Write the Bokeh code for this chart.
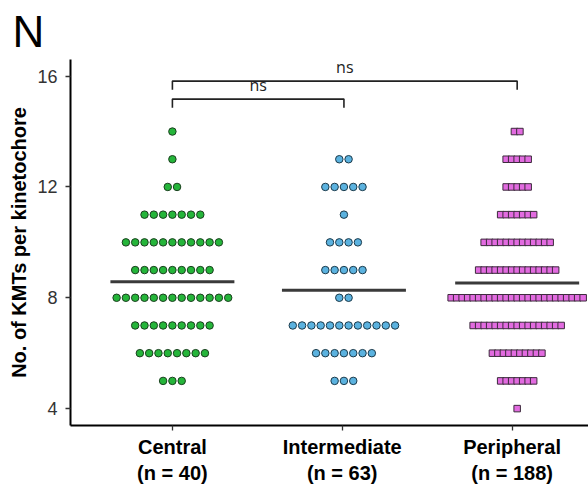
from bokeh.plotting import figure
from bokeh.models import FixedTicker, Range1d, Label
from bokeh.embed import file_html
from bokeh.resources import INLINE

# KMT counts per kinetochore: value -> number of kinetochores with that value
groups = ["Central", "Intermediate", "Peripheral"]
group_labels = ["Central\n(n = 40)", "Intermediate\n(n = 63)", "Peripheral\n(n = 188)"]

central_values = [5, 6, 7, 8, 9, 10, 11, 12, 13, 14]
central_counts = [3, 8, 9, 13, 9, 11, 7, 2, 1, 1]

intermediate_values = [5, 6, 7, 8, 9, 10, 11, 12, 13]
intermediate_counts = [3, 7, 12, 2, 5, 4, 1, 5, 2]

peripheral_values = [4, 5, 6, 7, 8, 9, 10, 11, 12, 13, 14]
peripheral_counts = [1, 7, 10, 17, 25, 15, 13, 7, 5, 5, 2]

comparisons = [("Central", "Intermediate", "ns"), ("Central", "Peripheral", "ns")]

y_ticks = [4, 8, 12, 16]

FONT = "Liberation Sans"

p = figure(width=588, height=492, output_backend="svg", toolbar_location=None,
           min_border_left=70, min_border_right=0, min_border_top=58,
           min_border_bottom=67)
p.x_range = Range1d(0.4, 3.45)
p.y_range = Range1d(3.39, 16.6)
p.grid.visible = False
p.outline_line_color = None
p.background_fill_color = "white"
p.border_fill_color = "white"

# panel letter as a left-aligned title
p.title.text = "N"
p.title.text_font = FONT
p.title.text_font_size = "44px"
p.title.text_font_style = "normal"
p.title.text_color = "black"
p.title.align = "left"
p.title.offset = -58
p.title.standoff = 8

centers = {"Central": 1.0, "Intermediate": 2.01, "Peripheral": 3.03}
px = 518 / (3.45 - 0.4)  # screen pixels per x unit


def swarm(center, values, counts, step):
    xs, ys = [], []
    for v, c in zip(values, counts):
        for i in range(c):
            xs.append(center + (i - (c - 1) / 2) * step)
            ys.append(v)
    return xs, ys


def mean(values, counts):
    return sum(v * c for v, c in zip(values, counts)) / sum(counts)


series = [
    ("Central", central_values, central_counts, "circle", "#25b53a", "#1b3f1f", 9.3 / px, 7.5),
    ("Intermediate", intermediate_values, intermediate_counts, "circle", "#5bb2df", "#1c3a4a", 9.3 / px, 7.5),
    ("Peripheral", peripheral_values, peripheral_counts, "square", "#e26be0", "#3c2a3c", 5.5 / px, 6.5),
]

for name, vals, cnts, marker, fill, edge, step, size in series:
    xs, ys = swarm(centers[name], vals, cnts, step)
    p.scatter(xs, ys, marker=marker, size=size, fill_color=fill,
              line_color=edge, line_width=1)
    m = mean(vals, cnts)
    c = centers[name]
    p.line([c - 0.365, c + 0.365], [m, m], line_color="#3a3a3a", line_width=3)

# significance brackets
bracket_levels = [15.17, 15.82]
for (a, b, txt), yb in zip(comparisons, bracket_levels):
    xa, xb = centers[a], centers[b]
    p.line([xa, xa, xb, xb], [yb - 0.31, yb, yb, yb - 0.31],
           line_color="#222222", line_width=1.6)
    p.add_layout(Label(x=(xa + xb) / 2, y=yb, text=txt, text_align="center",
                       text_baseline="bottom", y_offset=3,
                       text_font="Open Sans", text_font_size="16px",
                       text_color="#222222"))

# axes
p.xaxis.ticker = FixedTicker(ticks=[1, 2, 3])
p.xaxis.major_label_overrides = {i + 1: lab for i, lab in enumerate(group_labels)}
p.yaxis.ticker = FixedTicker(ticks=y_ticks)
for ax in (p.xaxis[0], p.yaxis[0]):
    ax.axis_line_width = 2
    ax.axis_line_color = "black"
    ax.major_tick_line_color = "#333333"
    ax.major_tick_line_width = 1.3
    ax.major_tick_in = 0
    ax.major_tick_out = 5
    ax.minor_tick_line_color = None

p.xaxis.major_label_text_font = FONT
p.xaxis.major_label_text_font_style = "bold"
p.xaxis.major_label_text_font_size = "20px"
p.xaxis.major_label_text_color = "black"
p.xaxis.major_label_standoff = 5

p.yaxis.major_label_text_font = FONT
p.yaxis.major_label_text_font_size = "18px"
p.yaxis.major_label_text_color = "#333333"
p.yaxis.major_label_standoff = 8
p.yaxis.axis_label = "No. of KMTs per kinetochore"
p.yaxis.axis_label_text_font = FONT
p.yaxis.axis_label_text_font_style = "bold"
p.yaxis.axis_label_text_font_size = "20px"
p.yaxis.axis_label_text_color = "black"
p.yaxis.axis_label_standoff = 4

open("out.html", "w").write(file_html(p, INLINE))
